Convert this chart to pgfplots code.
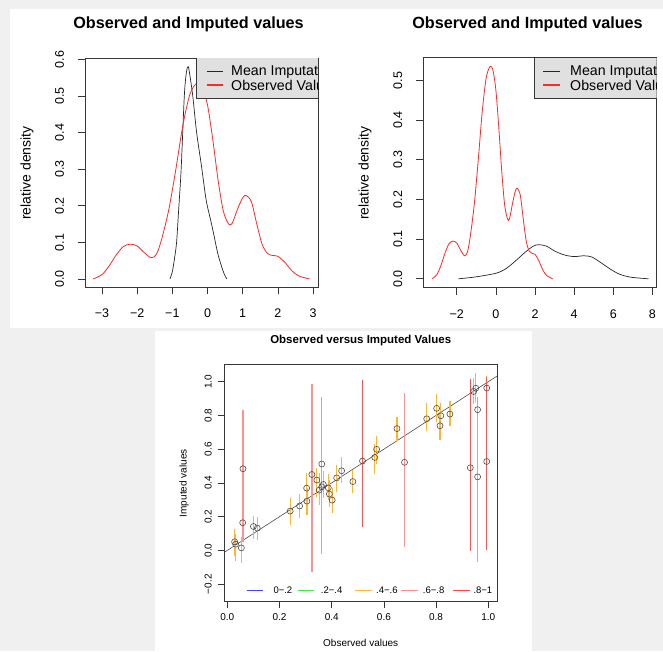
\documentclass[border=0pt]{standalone}
\usepackage{pgfplots}
\pgfplotsset{compat=1.18}
\usepackage{pgfplotstable}
\usepackage{fontspec}
\setmainfont{Liberation Sans}

\definecolor{bgg}{RGB}{240,240,240}
\definecolor{legfill}{RGB}{224,224,224}
\definecolor{boxc}{RGB}{55,55,55}
\definecolor{curvered}{RGB}{255,40,40}
\definecolor{barorange}{RGB}{255,180,50}
\definecolor{barcoral}{RGB}{255,145,145}
\definecolor{barred}{RGB}{255,80,80}
\definecolor{legblue}{RGB}{70,70,255}
\definecolor{leggreen}{RGB}{70,230,70}
\definecolor{legorange}{RGB}{255,185,60}
\definecolor{legcoral}{RGB}{255,140,140}
\definecolor{legred}{RGB}{255,70,70}

% observed values density
\pgfplotstableread{
x y
-3.25 0.000
-3.0 0.012
-2.8 0.035
-2.6 0.065
-2.4 0.088
-2.2 0.095
-2.0 0.090
-1.8 0.072
-1.6 0.058
-1.45 0.068
-1.3 0.110
-1.1 0.190
-0.9 0.300
-0.7 0.420
-0.5 0.505
-0.3 0.535
-0.15 0.525
0.0 0.475
0.15 0.380
0.3 0.270
0.45 0.185
0.6 0.150
0.7 0.152
0.85 0.190
1.0 0.222
1.1 0.228
1.25 0.210
1.4 0.150
1.55 0.095
1.7 0.070
1.85 0.064
2.0 0.062
2.2 0.045
2.4 0.022
2.6 0.008
2.9 0.000
}\obsdens

% mean imputation density, left panel
\pgfplotstableread{
x y
-1.07 0.000
-1.0 0.020
-0.94 0.055
-0.88 0.100
-0.82 0.190
-0.75 0.300
-0.66 0.500
-0.60 0.565
-0.55 0.580
-0.50 0.555
-0.42 0.500
-0.31 0.400
-0.17 0.307
-0.04 0.216
0.09 0.160
0.17 0.125
0.29 0.070
0.40 0.034
0.48 0.012
0.55 0.000
}\meanA

% mean imputation density, right panel
\pgfplotstableread{
x y
-1.91 0.000
-1.0 0.005
0.0 0.014
0.5 0.025
1.0 0.045
1.5 0.067
1.9 0.082
2.2 0.086
2.6 0.082
3.0 0.070
3.5 0.060
4.0 0.056
4.5 0.058
4.9 0.055
5.3 0.043
5.8 0.026
6.3 0.012
6.9 0.004
7.8 0.000
}\meanB

% overimputation: observed, imputed mean, 90% interval
\pgfplotstableread{
x y lo hi
0.028 0.051 -0.035 0.125
0.032 0.037 -0.062 0.100
0.054 0.015 -0.075 0.077
0.100 0.142 0.067 0.205
0.115 0.132 0.061 0.196
0.241 0.233 0.148 0.310
0.277 0.263 0.191 0.334
0.305 0.292 0.211 0.369
0.304 0.369 0.285 0.456
0.343 0.417 0.318 0.486
0.352 0.357 0.268 0.456
0.362 0.377 0.290 0.440
0.368 0.391 0.310 0.470
0.387 0.371 0.298 0.452
0.391 0.334 0.260 0.420
0.402 0.298 0.220 0.370
0.419 0.430 0.347 0.506
0.438 0.472 0.397 0.555
0.481 0.408 0.338 0.476
0.565 0.551 0.452 0.630
0.572 0.599 0.512 0.680
0.650 0.722 0.650 0.792
0.764 0.780 0.709 0.871
0.802 0.842 0.759 0.927
0.815 0.739 0.654 0.818
0.818 0.798 0.720 0.871
0.853 0.808 0.739 0.883
0.944 0.942 0.867 1.020
0.952 0.961 0.880 1.049
0.994 0.962 0.887 1.035
}\orangetab

\pgfplotstableread{
x y lo hi
0.059 0.164 0.090 0.240
0.060 0.484 0.050 0.834
0.324 0.450 -0.130 0.984
0.362 0.512 -0.022 0.907
0.679 0.522 0.018 0.932
0.959 0.834 0.750 0.910
0.959 0.436 -0.067 0.905
}\coraltab

\pgfplotstableread{
x y lo hi
0.518 0.530 0.136 1.008
0.931 0.490 -0.002 1.018
0.994 0.527 0.004 1.030
}\redtab

\pgfplotsset{
  rstyle/.style={
    scale only axis,
    axis line style={boxc, line width=0.7pt},
    tick style={boxc, line width=0.7pt},
    tick align=outside,
    xtick pos=bottom, ytick pos=left,
    clip=true,
  },
  errbars/.style={
    draw=none, mark=none, forget plot,
    error bars/.cd, y dir=both, y explicit, error mark=none,
    error bar style={draw=#1, line width=1.3pt}
  },
}

\begin{document}
\begin{tikzpicture}[x=1pt,y=1pt]
\fill[bgg] (0,0) rectangle (663,651);
\fill[white] (10,323) rectangle (663,642);
\fill[white] (155,0) rectangle (532,320);

% ---------------- top left ----------------
\begin{axis}[rstyle,
  at={(85pt,364pt)}, anchor=south west,
  width=233pt, height=229pt,
  xmin=-3.483, xmax=3.14, ymin=-0.022, ymax=0.6036,
  xtick={-3,-2,-1,0,1,2,3},
  xticklabels={−3,−2,−1,0,1,2,3},
  ytick={0,0.1,0.2,0.3,0.4,0.5,0.6},
  yticklabels={0.0,0.1,0.2,0.3,0.4,0.5,0.6},
  major tick length=7.5pt,
  ticklabel style={font=\fontsize{12.5}{13}\selectfont},
  xticklabel style={anchor=center},
  yticklabel style={rotate=90, anchor=center},
  xticklabel shift=19pt, yticklabel shift=18pt,
]
\addplot[black!85, line width=0.7pt, smooth] table {\meanA};
\addplot[curvered, line width=0.8pt, smooth] table {\obsdens};
\end{axis}
\begin{scope}
\clip (196,552.7) rectangle (318,593);
\fill[legfill] (196,552.7) rectangle (318,593);
\draw[draw=black!85, line width=0.9pt] (206.7,579.3) -- (223.3,579.3);
\draw[draw=curvered, line width=1.1pt] (206.7,566) -- (223.3,566);
\node[anchor=west, inner sep=0pt, font=\fontsize{14.2}{15}\selectfont] at (231,579.3) {Mean Imputation};
\node[anchor=west, inner sep=0pt, font=\fontsize{14.2}{15}\selectfont] at (231,566) {Observed Values};
\end{scope}
\draw[boxc, line width=0.7pt] (196,593) -- (196,552.7) -- (318,552.7);
\node[font=\bfseries\fontsize{16.2}{17}\selectfont] at (188.5,627) {Observed and Imputed values};
\node[rotate=90, font=\fontsize{14}{15}\selectfont] at (27,478) {relative density};

% ---------------- top right ----------------
\begin{axis}[rstyle,
  at={(423.3pt,363.7pt)}, anchor=south west,
  width=233.4pt, height=229.6pt,
  xmin=-3.71, xmax=8.22, ymin=-0.0214, ymax=0.557,
  xtick={-2,0,2,4,6,8},
  xticklabels={−2,0,2,4,6,8},
  ytick={0,0.1,0.2,0.3,0.4,0.5},
  yticklabels={0.0,0.1,0.2,0.3,0.4,0.5},
  major tick length=7.5pt,
  ticklabel style={font=\fontsize{12.5}{13}\selectfont},
  xticklabel style={anchor=center},
  yticklabel style={rotate=90, anchor=center},
  xticklabel shift=19pt, yticklabel shift=18pt,
]
\addplot[black!85, line width=0.7pt, smooth] table {\meanB};
\addplot[curvered, line width=0.8pt, smooth] table {\obsdens};
\end{axis}
\begin{scope}
\clip (534,552.7) rectangle (656.7,593.3);
\fill[legfill] (534,552.7) rectangle (656.7,593.3);
\draw[draw=black!85, line width=0.9pt] (543.3,579.3) -- (560,579.3);
\draw[draw=curvered, line width=1.1pt] (543.3,566) -- (560,566);
\node[anchor=west, inner sep=0pt, font=\fontsize{14.2}{15}\selectfont] at (570,579.3) {Mean Imputation};
\node[anchor=west, inner sep=0pt, font=\fontsize{14.2}{15}\selectfont] at (570,566) {Observed Values};
\end{scope}
\draw[boxc, line width=0.7pt] (534,593.3) -- (534,552.7) -- (656.7,552.7);
\node[font=\bfseries\fontsize{16.2}{17}\selectfont] at (527.5,627) {Observed and Imputed values};
\node[rotate=90, font=\fontsize{14}{15}\selectfont] at (365,478) {relative density};

% ---------------- bottom ----------------
\begin{axis}[rstyle,
  at={(224.3pt,49.3pt)}, anchor=south west,
  width=273pt, height=237.4pt,
  xmin=-0.0115, xmax=1.0345, ymin=-0.304, ymax=1.103,
  xtick={0,0.2,0.4,0.6,0.8,1},
  xticklabels={0.0,0.2,0.4,0.6,0.8,1.0},
  ytick={-0.2,0,0.2,0.4,0.6,0.8,1},
  yticklabels={−0.2,0.0,0.2,0.4,0.6,0.8,1.0},
  major tick length=6pt,
  ticklabel style={font=\fontsize{10}{11}\selectfont},
  xticklabel style={anchor=center},
  yticklabel style={rotate=90, anchor=center},
  xticklabel shift=9pt, yticklabel shift=10pt,
]
\addplot[black!70, line width=0.6pt] coordinates {(-0.0115,-0.0115) (1.0345,1.0345)};
\addplot[errbars=barorange] table[x=x, y=y, y error plus expr=\thisrow{hi}-\thisrow{y}, y error minus expr=\thisrow{y}-\thisrow{lo}] {\orangetab};
\addplot[errbars=barcoral] table[x=x, y=y, y error plus expr=\thisrow{hi}-\thisrow{y}, y error minus expr=\thisrow{y}-\thisrow{lo}] {\coraltab};
\addplot[errbars=barred] table[x=x, y=y, y error plus expr=\thisrow{hi}-\thisrow{y}, y error minus expr=\thisrow{y}-\thisrow{lo}] {\redtab};
\addplot[only marks, mark=o, mark size=3pt, mark options={black!70, line width=0.6pt}] table[x=x, y=y] {\orangetab};
\addplot[only marks, mark=o, mark size=3pt, mark options={black!70, line width=0.6pt}] table[x=x, y=y] {\coraltab};
\addplot[only marks, mark=o, mark size=3pt, mark options={black!70, line width=0.6pt}] table[x=x, y=y] {\redtab};
\end{axis}
\node[font=\bfseries\fontsize{11.5}{12}\selectfont] at (360.7,310) {Observed versus Imputed Values};
\node[font=\fontsize{10}{11}\selectfont] at (360.7,8) {Observed values};
\node[rotate=90, font=\fontsize{10}{11}\selectfont] at (184,167.7) {Imputed values};
% legend of the bottom panel
\begin{scope}[line width=1pt]
\draw[legblue] (246.7,61) -- (263.3,61);
\draw[leggreen] (297.7,61) -- (314.3,61);
\draw[legorange] (355,61) -- (371.7,61);
\draw[legcoral] (401,61) -- (417.7,61);
\draw[legred] (453.3,61) -- (470,61);
\end{scope}
\begin{scope}[every node/.style={anchor=west, inner sep=0pt, font=\fontsize{9.5}{10}\selectfont}]
\node at (273.3,61) {0−.2};
\node at (320.7,61) {.2−.4};
\node at (376,61) {.4−.6};
\node at (422.7,61) {.6−.8};
\node at (473.3,61) {.8−1};
\end{scope}
\pgfresetboundingbox
\useasboundingbox (0,0) rectangle (663,651);
\end{tikzpicture}
\end{document}
